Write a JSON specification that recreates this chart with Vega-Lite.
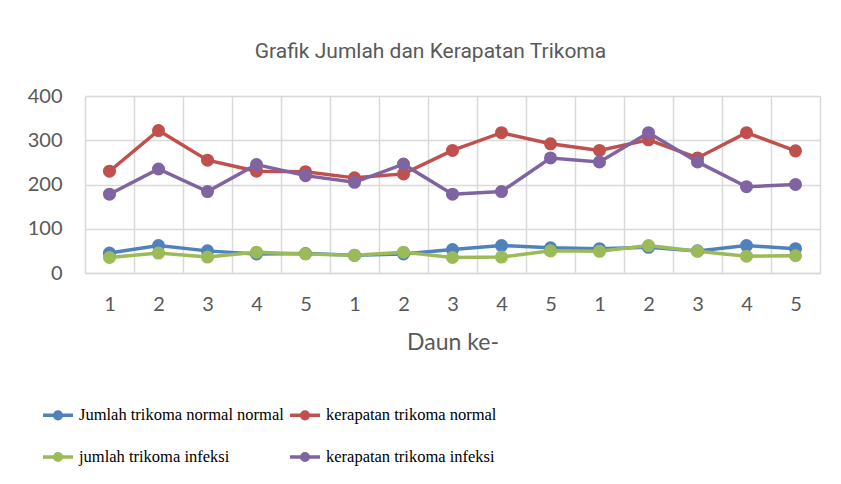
{
  "$schema": "https://vega.github.io/schema/vega-lite/v6.json",
  "width": 735,
  "height": 177,
  "autosize": {"type": "none"},
  "padding": {"left": 85, "top": 96, "right": 21, "bottom": 211},
  "background": "white",
  "title": {
    "text": "Grafik Jumlah dan Kerapatan Trikoma",
    "font": "Roboto",
    "fontSize": 21,
    "fontWeight": "normal",
    "color": "#595959",
    "anchor": "middle",
    "frame": "group",
    "dx": -22,
    "baseline": "alphabetic",
    "offset": 7
  },
  "data": {
    "values": [
      {"daun": 1, "Jumlah trikoma  normal normal": 45, "kerapatan trikoma normal": 230, "jumlah trikoma infeksi": 35, "kerapatan trikoma infeksi": 178},
      {"daun": 2, "Jumlah trikoma  normal normal": 62, "kerapatan trikoma normal": 322, "jumlah trikoma infeksi": 45, "kerapatan trikoma infeksi": 235},
      {"daun": 3, "Jumlah trikoma  normal normal": 50, "kerapatan trikoma normal": 255, "jumlah trikoma infeksi": 36, "kerapatan trikoma infeksi": 184},
      {"daun": 4, "Jumlah trikoma  normal normal": 43, "kerapatan trikoma normal": 230, "jumlah trikoma infeksi": 47, "kerapatan trikoma infeksi": 245},
      {"daun": 5, "Jumlah trikoma  normal normal": 44, "kerapatan trikoma normal": 229, "jumlah trikoma infeksi": 43, "kerapatan trikoma infeksi": 220},
      {"daun": 6, "Jumlah trikoma  normal normal": 40, "kerapatan trikoma normal": 215, "jumlah trikoma infeksi": 40, "kerapatan trikoma infeksi": 205},
      {"daun": 7, "Jumlah trikoma  normal normal": 43, "kerapatan trikoma normal": 224, "jumlah trikoma infeksi": 47, "kerapatan trikoma infeksi": 246},
      {"daun": 8, "Jumlah trikoma  normal normal": 53, "kerapatan trikoma normal": 277, "jumlah trikoma infeksi": 35, "kerapatan trikoma infeksi": 178},
      {"daun": 9, "Jumlah trikoma  normal normal": 62, "kerapatan trikoma normal": 317, "jumlah trikoma infeksi": 36, "kerapatan trikoma infeksi": 184},
      {"daun": 10, "Jumlah trikoma  normal normal": 57, "kerapatan trikoma normal": 292, "jumlah trikoma infeksi": 50, "kerapatan trikoma infeksi": 260},
      {"daun": 11, "Jumlah trikoma  normal normal": 55, "kerapatan trikoma normal": 277, "jumlah trikoma infeksi": 49, "kerapatan trikoma infeksi": 251},
      {"daun": 12, "Jumlah trikoma  normal normal": 58, "kerapatan trikoma normal": 301, "jumlah trikoma infeksi": 62, "kerapatan trikoma infeksi": 317},
      {"daun": 13, "Jumlah trikoma  normal normal": 50, "kerapatan trikoma normal": 260, "jumlah trikoma infeksi": 49, "kerapatan trikoma infeksi": 251},
      {"daun": 14, "Jumlah trikoma  normal normal": 62, "kerapatan trikoma normal": 317, "jumlah trikoma infeksi": 38, "kerapatan trikoma infeksi": 195},
      {"daun": 15, "Jumlah trikoma  normal normal": 55, "kerapatan trikoma normal": 276, "jumlah trikoma infeksi": 39, "kerapatan trikoma infeksi": 200}
    ]
  },
  "transform": [
    {"fold": ["Jumlah trikoma  normal normal", "kerapatan trikoma normal", "jumlah trikoma infeksi", "kerapatan trikoma infeksi"], "as": ["seri", "nilai"]}
  ],
  "encoding": {
    "x": {
      "field": "daun",
      "type": "ordinal",
      "bandPosition": 0.5,
      "scale": {"type": "band", "paddingInner": 0, "paddingOuter": 0},
      "axis": {
        "title": "Daun ke-",
        "titleFont": "Lato",
        "titleFontSize": 23,
        "titleFontWeight": "normal",
        "titleColor": "#595959",
        "titlePadding": 17,
        "labelExpr": "isValid(datum.value) ? (datum.value - 1) % 5 + 1 : ''",
        "labelAngle": 0,
        "labelFont": "Lato",
        "labelFontSize": 20,
        "labelColor": "#595959",
        "labelPadding": 21,
        "ticks": false,
        "tickBand": "extent",
        "grid": true,
        "gridColor": "#d9d9d9",
        "gridWidth": 1.5,
        "domainColor": "#d9d9d9",
        "domainWidth": 1.5
      }
    },
    "y": {
      "field": "nilai",
      "type": "quantitative",
      "scale": {"domain": [0, 400]},
      "axis": {
        "title": null,
        "values": [0, 100, 200, 300, 400],
        "labelFont": "Lato",
        "labelFontSize": 20,
        "labelColor": "#595959",
        "labelPadding": 23,
        "ticks": false,
        "domain": false,
        "grid": true,
        "gridColor": "#d9d9d9",
        "gridWidth": 1.5
      }
    },
    "color": {
      "field": "seri",
      "type": "nominal",
      "scale": {
        "domain": ["Jumlah trikoma  normal normal", "kerapatan trikoma normal", "jumlah trikoma infeksi", "kerapatan trikoma infeksi"],
        "range": ["#4F81BD", "#C0504D", "#9BBB59", "#8064A2"]
      },
      "legend": {
        "title": null,
        "orient": "none",
        "legendX": -44,
        "legendY": 302,
        "direction": "horizontal",
        "columns": 2,
        "columnPadding": -8,
        "rowPadding": 14,
        "symbolType": "M-1,0L1,0M-0.22,0A0.22,0.22,0,1,1,0.22,0A0.22,0.22,0,1,1,-0.22,0Z",
        "symbolSize": 900,
        "symbolStrokeWidth": 3.5,
        "labelFont": "Liberation Serif",
        "labelFontSize": 16.5,
        "labelColor": "#000000",
        "labelOffset": 4,
        "labelLimit": 400
      }
    }
  },
  "layer": [
    {"mark": {"type": "line", "strokeWidth": 3.5}},
    {"mark": {"type": "point", "filled": true, "size": 170, "opacity": 1}}
  ],
  "config": {"view": {"stroke": null}}
}
